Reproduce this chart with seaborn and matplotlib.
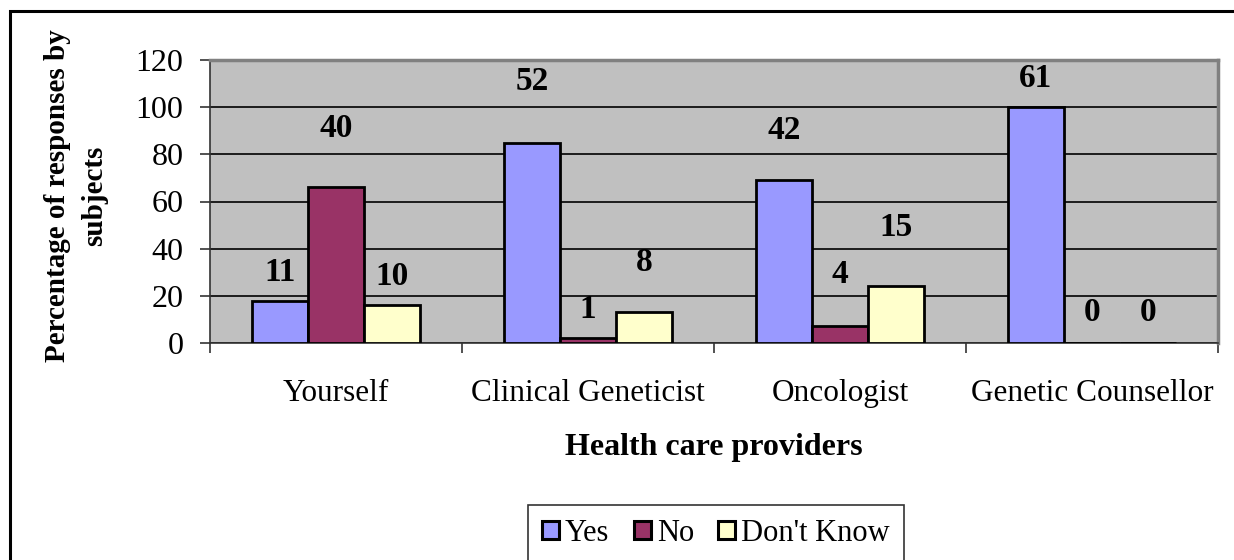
import numpy as np
import matplotlib.pyplot as plt
import matplotlib.patches as patches
import seaborn as sns
import pandas as pd

# chart data
providers = ['Yourself', 'Clinical Geneticist', 'Oncologist', 'Genetic Counsellor']
answers = ['Yes', 'No', "Don't Know"]
yes_pct = [18, 85, 69, 100]
no_pct = [66, 2, 7, 0]
dontknow_pct = [16, 13, 24, 0]
# number of subjects printed above each bar
yes_n = [11, 52, 42, 61]
no_n = [40, 1, 4, 0]
dontknow_n = [10, 8, 15, 0]
# how far above each bar its number sits (data units)
yes_gap = [12, 26, 21, 12]
no_gap = [25, 12, 22, 13]
dontknow_gap = [12, 21, 25, 13]

colors = ['#9999FF', '#993366', '#FFFFCC']

rows = []
for i, p in enumerate(providers):
    rows.append({'Provider': p, 'Answer': 'Yes', 'Pct': yes_pct[i]})
    rows.append({'Provider': p, 'Answer': 'No', 'Pct': no_pct[i]})
    rows.append({'Provider': p, 'Answer': "Don't Know", 'Pct': dontknow_pct[i]})
df = pd.DataFrame(rows)

sns.set_style('white')
plt.rcParams['font.family'] = ['Liberation Serif', 'DejaVu Serif']
plt.rcParams['text.color'] = 'black'
plt.rcParams['axes.labelcolor'] = 'black'
plt.rcParams['xtick.color'] = 'black'
plt.rcParams['ytick.color'] = 'black'

fig = plt.figure(figsize=(12.34, 5.6), dpi=100)
ax = fig.add_axes([210 / 1234, 1 - 343 / 560, 1008 / 1234, 283 / 560])
ax.set_facecolor('#C0C0C0')

sns.barplot(data=df, x='Provider', y='Pct', hue='Answer', order=providers,
            hue_order=answers, palette=colors, width=0.667, edgecolor='black',
            linewidth=2, saturation=1, ax=ax, legend=False, zorder=3)

# numbers above bars
counts = [yes_n, no_n, dontknow_n]
gaps = [yes_gap, no_gap, dontknow_gap]
heights = [yes_pct, no_pct, dontknow_pct]
for h, cont in enumerate(ax.containers):
    for i, bar in enumerate(cont):
        xc = bar.get_x() + bar.get_width() / 2
        ax.text(xc, heights[h][i] + gaps[h][i], str(counts[h][i]), ha='center',
                va='center', fontsize=24, fontweight='bold', color='black', zorder=5)

ax.set_ylim(0, 120)
ax.set_xlim(-0.5, 3.5)
ax.set_yticks(range(0, 121, 20))
ax.yaxis.grid(True, color='black', linewidth=1.2, zorder=1)
ax.set_axisbelow(True)
ax.tick_params(axis='y', which='major', length=7, width=1.2, direction='out',
               pad=12, labelsize=23, left=True, color='#333333', labelcolor='black')
ax.set_xticks(range(4))
ax.set_xticklabels(providers)
ax.tick_params(axis='x', which='major', length=0, pad=26, labelsize=22.5,
               labelcolor='black')
ax.set_xticks(np.arange(-0.5, 4, 1), minor=True)
ax.tick_params(axis='x', which='minor', length=7, width=1.2, direction='out',
               bottom=True, color='#333333')

for side in ['top', 'right']:
    ax.spines[side].set_color('#808080')
    ax.spines[side].set_linewidth(2.5)
for side in ['left', 'bottom']:
    ax.spines[side].set_color('#333333')
    ax.spines[side].set_linewidth(1.2)

ax.set_xlabel('Health care providers', fontsize=23, fontweight='bold', color='black')
ax.set_ylabel('Percentage of responses by\nsubjects', fontsize=21,
              fontweight='bold', linespacing=1.5, color='black')
ax.yaxis.set_label_coords(-(210 - 108) / 1008, (343 - 196) / 283)
ax.xaxis.set_label_coords(0.5, -(433 - 343) / 283)

handles = [patches.Patch(facecolor=c, edgecolor='black', linewidth=2.2) for c in colors]
leg = fig.legend(handles, answers, loc='upper center', bbox_to_anchor=(716 / 1234, 1 - 505 / 560),
                 ncol=3, fontsize=22, frameon=True, fancybox=False, handlelength=0.55,
                 handleheight=0.55, handletextpad=0.2, columnspacing=0.8,
                 borderpad=0.45, borderaxespad=0)
leg.get_frame().set_edgecolor('black')
leg.get_frame().set_linewidth(1.2)
for t in leg.get_texts():
    t.set_color('black')

# outer chart frame
fig.patches.append(patches.Rectangle((10 / 1234, -0.05), 1.1, 1 - 10.5 / 560 + 0.05,
                                     transform=fig.transFigure, fill=False,
                                     edgecolor='black', linewidth=2.2))

fig.savefig('out.png', dpi=100)
